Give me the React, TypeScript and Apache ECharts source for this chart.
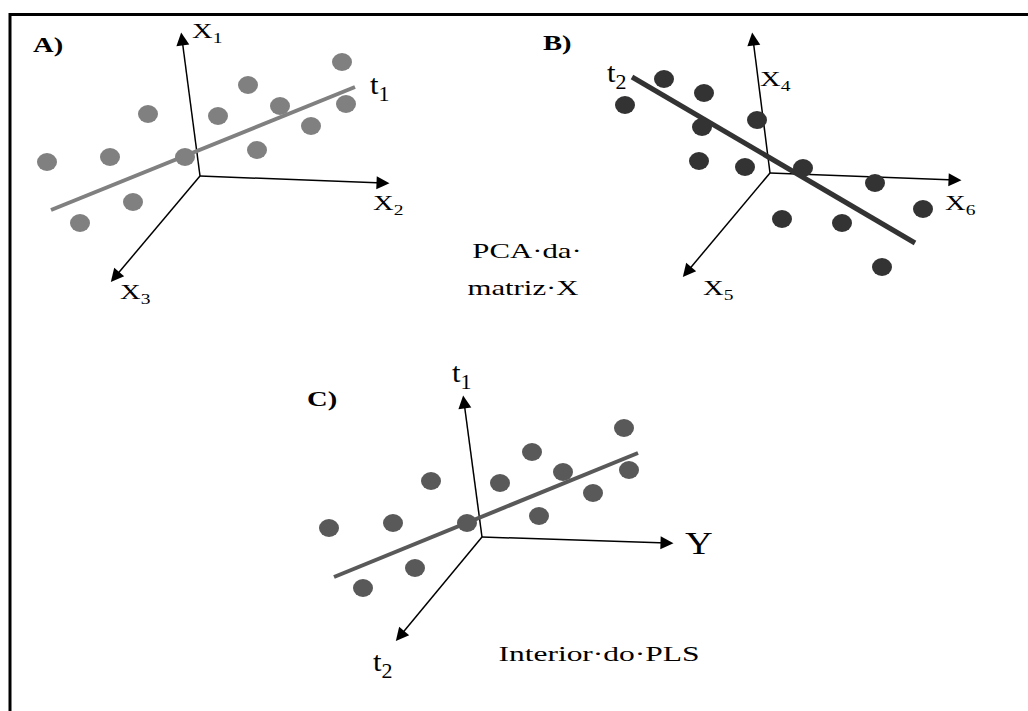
import React, { useEffect, useRef } from "react";
import * as echarts from "echarts";

// ---- data (diagram coordinates, x to the right, y downward) ----
const dotsA: number[][] = [
  [47, 162], [110, 157], [148, 114], [185, 157], [133, 202], [80, 223], [218, 116],
  [248, 85], [280, 106], [257, 150], [311, 126], [342, 62], [346, 104],
];
const dotsB: number[][] = [
  [625, 105], [664, 79], [704, 93], [702, 127], [757, 120], [699, 161], [745, 167],
  [803, 168], [875, 183], [923, 209], [782, 219], [842, 223], [882, 267],
];
const dotsC: number[][] = [
  [329, 528], [393, 523], [431, 481], [467, 523], [415, 568], [363, 588], [500, 483],
  [532, 452], [563, 472], [539, 516], [593, 493], [624, 428], [629, 470],
];
const trendA: number[][] = [[51, 210], [355, 87]];
const trendB: number[][] = [[632, 77], [915, 243]];
const trendC: number[][] = [[334, 577], [638, 453]];

const originA: number[] = [200, 176];
const axisEndsA: number[][] = [[182, 39], [383, 183], [115, 277]];
const originB: number[] = [770, 173];
const axisEndsB: number[][] = [[753, 39], [955, 180], [687, 272]];
const originC: number[] = [482, 537];
const axisEndsC: number[][] = [[464, 402], [667, 543], [400, 636]];

const panelTags: string[] = ["A)", "B)", "C)"];
const axisNamesA: string[][] = [["X", "1"], ["X", "2"], ["X", "3"], ["t", "1"]];
const axisNamesB: string[][] = [["X", "4"], ["X", "5"], ["X", "6"], ["t", "2"]];
const axisNamesC: string[][] = [["t", "1"], ["Y", ""], ["t", "2"]];
const captionB: string[] = ["PCA·da·", "matriz·X"];
const captionC: string = "Interior·do·PLS";

const SERIF = "'Liberation Serif', 'Times New Roman', 'DejaVu Serif', serif";
const DOT = "path://M0,10A10,10 0 1 1 20,10A10,10 0 1 1 0,10Z";

function subLabel(name: string[], x: number, y: number, size: number, subSize: number, scaleX: number) {
  return {
    type: "text",
    x,
    y,
    scaleX,
    style: {
      text: name[1] ? `{m|${name[0]}}{s|${name[1]}}` : `{m|${name[0]}}`,
      align: "left",
      textAlign: "left",
      verticalAlign: "middle",
      textVerticalAlign: "middle",
      fill: "#000",
      rich: {
        m: { fontSize: size, fontFamily: SERIF, fill: "#000" },
        s: { fontSize: subSize, fontFamily: SERIF, fill: "#000", padding: [Math.round(subSize * 1.0), 0, 0, 0] },
      },
    },
  };
}

function plainText(text: string, x: number, y: number, size: number, scaleX: number, bold = false, align = "center") {
  return {
    type: "text",
    x,
    y,
    scaleX,
    style: {
      text,
      fontSize: size,
      fontFamily: SERIF,
      fontWeight: bold ? "bold" : "normal",
      align,
      textAlign: align,
      verticalAlign: "middle",
      textVerticalAlign: "middle",
      fill: "#000",
    },
  };
}

function axisData(origin: number[], ends: number[][]) {
  return ends.map((e) => ({ coords: [origin, e] }));
}

export default function App() {
  const ref = useRef<HTMLDivElement>(null);
  useEffect(() => {
    if (!ref.current) return;
    const chart = echarts.init(ref.current, null, { renderer: "svg" });
    const dotSeries = (data: number[][], color: string) => ({
      type: "scatter",
      data,
      symbol: DOT,
      symbolSize: [20, 18],
      itemStyle: { color, opacity: 1 },
      z: 4,
    });
    const trendSeries = (data: number[][], color: string, width: number) => ({
      type: "line",
      data,
      symbol: "none",
      lineStyle: { color, width, cap: "butt" },
      z: 3,
    });
    const axisSeries = (origin: number[], ends: number[][]) => ({
      type: "lines",
      coordinateSystem: "cartesian2d",
      data: axisData(origin, ends),
      symbol: ["none", "triangle"],
      symbolSize: 13,
      lineStyle: { color: "#000", width: 1.5, opacity: 1, curveness: 0 },
      itemStyle: { color: "#000" },
      z: 2,
    });
    chart.setOption({
      animation: false,
      backgroundColor: "#fff",
      grid: { left: 0, top: 0, right: 0, bottom: 0, containLabel: false },
      xAxis: { type: "value", min: 0, max: 1028, show: false },
      yAxis: { type: "value", min: 0, max: 711, inverse: true, show: false },
      series: [
        axisSeries(originA, axisEndsA),
        axisSeries(originB, axisEndsB),
        axisSeries(originC, axisEndsC),
        trendSeries(trendA, "#808080", 4),
        trendSeries(trendB, "#333333", 5),
        trendSeries(trendC, "#595959", 4),
        dotSeries(dotsA, "#808080"),
        dotSeries(dotsB, "#333333"),
        dotSeries(dotsC, "#595959"),
      ],
      graphic: [
        { type: "line", shape: { x1: 9, y1: 14.5, x2: 1028, y2: 14.5 }, style: { stroke: "#000", lineWidth: 3 } },
        { type: "line", shape: { x1: 10, y1: 13, x2: 10, y2: 711 }, style: { stroke: "#000", lineWidth: 3 } },
        plainText(panelTags[0], 33, 45, 22, 1.3, true, "left"),
        plainText(panelTags[1], 543, 43, 22, 1.3, true, "left"),
        plainText(panelTags[2], 307, 399, 22, 1.3, true, "left"),
        subLabel(axisNamesA[0], 192, 31, 22, 15, 1.3),
        subLabel(axisNamesA[1], 373, 203, 22, 15, 1.3),
        subLabel(axisNamesA[2], 120, 292, 22, 15, 1.3),
        subLabel(axisNamesA[3], 370, 84, 28, 20, 1.1),
        subLabel(axisNamesB[0], 760, 79, 22, 15, 1.3),
        subLabel(axisNamesB[1], 703, 288, 22, 15, 1.3),
        subLabel(axisNamesB[2], 945, 203, 22, 15, 1.3),
        subLabel(axisNamesB[3], 607, 72, 28, 20, 1.1),
        subLabel(axisNamesC[0], 452, 372, 28, 20, 1.1),
        subLabel(axisNamesC[1], 685, 544, 32, 20, 1.2),
        subLabel(axisNamesC[2], 373, 661, 28, 20, 1.1),
        plainText(captionB[0], 527, 251, 22, 1.4),
        plainText(captionB[1], 523, 288, 22, 1.4),
        plainText(captionC, 599, 654, 21, 1.5),
      ],
    });
    return () => chart.dispose();
  }, []);
  return (
    <div
      ref={ref}
      style={{ position: "absolute", left: 0, top: 0, width: 1028, height: 711, background: "#fff" }}
    />
  );
}
